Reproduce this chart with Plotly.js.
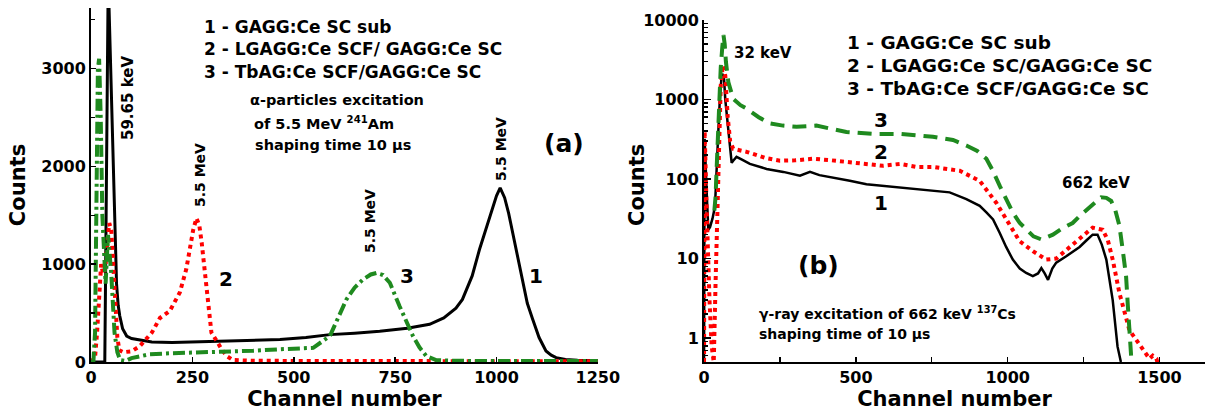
<!DOCTYPE html>
<html>
<head>
<meta charset="utf-8">
<script src="https://cdn.plot.ly/plotly-3.0.1.min.js"></script>
<style>html,body{margin:0;padding:0;background:#fff}#chart{width:1205px;height:414px}</style>
</head>
<body>
<div id="chart"></div>
<script>
// ---------- Panel (a): alpha-particle excitation, linear counts ----------
const a_ch1 = [0, 34, 36, 38, 40, 42, 44, 47, 51, 55, 59, 63, 67, 71, 78, 88, 100, 121, 150, 200, 250, 300, 350, 400, 466, 530, 589, 650, 712, 780, 835, 870, 900, 916, 940, 958, 975, 990, 1000, 1009, 1020, 1030, 1040, 1052, 1064, 1076, 1089, 1105, 1122, 1135, 1147, 1170, 1200, 1250];
const a_c1  = [0, 0, 900, 2000, 3000, 3700, 3700, 3200, 2600, 2000, 1400, 800, 580, 470, 340, 265, 240, 225, 205, 200, 205, 210, 215, 225, 230, 250, 280, 295, 315, 345, 385, 450, 550, 640, 880, 1150, 1380, 1590, 1700, 1780, 1680, 1520, 1320, 1080, 810, 600, 440, 250, 112, 70, 45, 25, 18, 15];

const a_ch2 = [0, 10, 15, 20, 25, 30, 35, 40, 45, 50, 55, 60, 65, 70, 80, 100, 120, 150, 170, 194, 219, 235, 244, 252, 260, 267, 273, 285, 297, 310, 322, 335, 350, 400, 500, 750, 1000, 1250];
const a_c2  = [0, 50, 300, 700, 1000, 900, 950, 1200, 1420, 1350, 1000, 600, 250, 120, 100, 110, 160, 300, 450, 520, 710, 950, 1180, 1350, 1470, 1400, 1220, 740, 300, 215, 130, 60, 20, 12, 10, 10, 8, 8];

const a_ch3 = [0, 6, 10, 14, 17, 20, 24, 28, 32, 36, 42, 50, 58, 65, 72, 85, 100, 145, 200, 300, 400, 466, 548, 589, 610, 630, 650, 671, 690, 704, 720, 737, 761, 780, 794, 810, 827, 851, 900, 1000, 1250];
const a_c3  = [0, 10, 300, 1500, 3000, 3100, 2500, 1500, 1000, 800, 1300, 900, 300, 100, 20, 10, 40, 80, 90, 100, 115, 130, 145, 265, 450, 640, 760, 845, 895, 910, 890, 810, 570, 400, 265, 150, 60, 20, 12, 10, 10];

const a_xticks = [0, 250, 500, 750, 1000, 1250];
const a_yticks = [0, 1000, 2000, 3000];

// ---------- Panel (b): gamma-ray excitation, log counts ----------
const b_ch1 = [0, 2, 8, 14, 20, 28, 36, 42, 47, 52, 58, 62, 66, 70, 75, 80, 86, 91, 96, 107, 125, 151, 206, 261, 316, 349, 380, 425, 480, 535, 590, 645, 700, 754, 809, 864, 908, 930, 952, 974, 995, 1017, 1040, 1061, 1083, 1100, 1111, 1122, 1133, 1147, 1160, 1193, 1237, 1260, 1280, 1296, 1310, 1325, 1346, 1362, 1373];
const b_c1  = [0.5, 320, 80, 23, 25, 32, 45, 120, 390, 1000, 2000, 2100, 1800, 1000, 630, 420, 260, 160, 170, 190, 175, 155, 134, 123, 110, 123, 112, 105, 95, 86, 82, 79, 75, 72, 68, 56, 46, 38, 31, 21, 14, 9.7, 7.5, 6.6, 6.0, 6.5, 7.6, 6.5, 5.4, 7.5, 8.9, 10.7, 14, 17, 20, 20, 15, 9.7, 3, 0.78, 0.5];

const b_ch2 = [0, 2, 5, 8, 12, 18, 25, 32, 38, 45, 50, 55, 62, 70, 78, 86, 96, 140, 200, 250, 300, 359, 420, 480, 589, 645, 700, 754, 842, 908, 935, 963, 996, 1039, 1083, 1127, 1160, 1204, 1247, 1280, 1313, 1330, 1346, 1368, 1401, 1434, 1467, 1478, 1490, 1500];
const b_c2  = [0.5, 400, 150, 50, 10, 3, 0.8, 0.5, 5, 50, 300, 1500, 2700, 2000, 600, 300, 240, 220, 185, 170, 172, 180, 172, 163, 147, 155, 142, 142, 127, 95, 70, 50, 31, 16.6, 12.4, 9.7, 10, 14, 19, 24.5, 23, 17, 9.7, 3.7, 1.26, 0.85, 0.55, 0.6, 0.55, 0.4];

const b_ch3 = [34, 38, 42, 46, 50, 55, 60, 64, 68, 72, 80, 96, 120, 140, 180, 217, 260, 305, 370, 420, 469, 557, 645, 754, 820, 864, 900, 930, 950, 974, 995, 1017, 1040, 1061, 1085, 1111, 1130, 1149, 1180, 1214, 1240, 1270, 1290, 1308, 1325, 1341, 1355, 1368, 1380, 1390, 1396, 1401, 1408];
const b_c3  = [40, 60, 150, 390, 1000, 2500, 4500, 6500, 5000, 3000, 1660, 1020, 850, 770, 600, 500, 470, 455, 470, 430, 390, 370, 370, 340, 310, 264, 225, 180, 130, 82, 55, 38, 28, 23, 19, 17.4, 18.5, 20, 24, 28, 35, 44, 52, 59, 58, 53, 40, 26, 12, 6, 2.5, 1.15, 0.5];

const b_xticks = [0, 500, 1000, 1500];
const b_yticks = [1, 10, 100, 1000, 10000];
const b_yminor = [0.6, 0.7, 0.8, 0.9, 2, 3, 4, 5, 6, 7, 8, 9, 20, 30, 40, 50, 60, 70, 80, 90,
                  200, 300, 400, 500, 600, 700, 800, 900, 2000, 3000, 4000, 5000, 6000, 7000, 8000, 9000];

// ---------- styling ----------
const FAM = 'DejaVu Sans';
const BLACK = '#000000', RED = '#ff0000', GREEN = '#1f8a1f';
const W = 1205, H = 414, ML = 91, MR = 0, MT = 8, MB = 52;
const PW = W - ML - MR, PH = H - MT - MB;
function P(x, y) { return {xref: 'paper', yref: 'paper', x: (x - ML) / PW, y: (H - MB - y) / PH}; }
function txt(x, y, text, size, opts) {
  return Object.assign(P(x, y), {text: text, showarrow: false, xanchor: 'center', yanchor: 'middle',
    font: {family: FAM, size: size, color: '#000', weight: 700}}, opts || {});
}

const traces = [
  {x: a_ch1, y: a_c1, xaxis: 'x', yaxis: 'y', mode: 'lines', line: {color: BLACK, width: 3}},
  {x: a_ch2, y: a_c2, xaxis: 'x', yaxis: 'y', mode: 'lines', line: {color: RED, width: 4, dash: 'dot'}},
  {x: a_ch3, y: a_c3, xaxis: 'x', yaxis: 'y', mode: 'lines', line: {color: GREEN, width: 4, dash: '12px,4px,3px,4px'}},
  {x: b_ch1, y: b_c1, xaxis: 'x2', yaxis: 'y2', mode: 'lines', line: {color: BLACK, width: 2.5}},
  {x: b_ch2, y: b_c2, xaxis: 'x2', yaxis: 'y2', mode: 'lines', line: {color: RED, width: 4, dash: 'dot'}},
  {x: b_ch3, y: b_c3, xaxis: 'x2', yaxis: 'y2', mode: 'lines', line: {color: GREEN, width: 4, dash: '14px,8px'}}
];

const tickfont = {family: FAM, size: 16, color: '#000', weight: 700};
const titlefont = {family: FAM, size: 21, color: '#000', weight: 700};
const axBase = {showline: true, linewidth: 2, linecolor: '#000', showgrid: false, zeroline: false,
  ticks: 'inside', ticklen: 5, tickwidth: 1.5, tickcolor: '#000', tickfont: tickfont};

const layout = {
  width: W, height: H, margin: {l: ML, r: MR, t: MT, b: MB}, showlegend: false,
  paper_bgcolor: '#fff', plot_bgcolor: '#fff',
  xaxis: Object.assign({}, axBase, {domain: [0, 0.455], range: [0, 1250], tickvals: a_xticks, anchor: 'y',
    title: {text: 'Channel number', font: titlefont, standoff: 5}}),
  yaxis: Object.assign({}, axBase, {domain: [0, 1], range: [0, 3620], tickvals: a_yticks, anchor: 'x',
    minor: {tickvals: [500, 1500, 2500, 3500], ticks: 'inside', ticklen: 4, tickcolor: '#000'},
    title: {text: 'Counts', font: titlefont, standoff: 10}}),
  xaxis2: Object.assign({}, axBase, {domain: [0.5503, 1], range: [0, 1650], tickvals: b_xticks, anchor: 'y2',
    minor: {tickvals: [250, 750, 1250], ticks: 'inside', ticklen: 5, tickcolor: '#000'},
    title: {text: 'Channel number', font: titlefont, standoff: 5}}),
  yaxis2: Object.assign({}, axBase, {type: 'log', domain: [0, 0.966], range: [-0.301, 4.0], tickvals: b_yticks,
    ticktext: b_yticks.map(String), anchor: 'x2', ticklen: 7,
    minor: {tickvals: b_yminor, ticks: 'inside', ticklen: 4, tickcolor: '#000', showgrid: false}}),
  annotations: [
    // panel (a)
    txt(202, 27, '1 - GAGG:Ce SC sub', 17, {xanchor: 'left'}),
    txt(202, 49, '2 - LGAGG:Ce SCF/ GAGG:Ce SC', 17, {xanchor: 'left'}),
    txt(202, 72, '3 - TbAG:Ce SCF/GAGG:Ce SC', 17, {xanchor: 'left'}),
    txt(248, 100, 'α-particles excitation', 14.5, {xanchor: 'left'}),
    txt(252, 123, 'of 5.5 MeV <sup>241</sup>Am', 14.5, {xanchor: 'left'}),
    txt(253, 145, 'shaping time 10 μs', 14.5, {xanchor: 'left'}),
    txt(128, 98, '59.65 keV', 15, {textangle: -90}),
    txt(200, 175, '5.5 MeV', 14, {textangle: -90}),
    txt(370, 221, '5.5 MeV', 14, {textangle: -90}),
    txt(501, 149, '5.5 MeV', 14, {textangle: -90}),
    txt(226, 279, '2', 20),
    txt(407, 276, '3', 20),
    txt(536, 276, '1', 20),
    txt(564, 143, '(a)', 25),
    // panel (b)
    txt(637, 185, 'Counts', 21, {textangle: -90}),
    txt(732, 53, '32 keV', 15, {xanchor: 'left'}),
    txt(845, 42, '1 - GAGG:Ce SC sub', 18.5, {xanchor: 'left'}),
    txt(845, 65, '2 - LGAGG:Ce SC/GAGG:Ce SC', 18.5, {xanchor: 'left'}),
    txt(845, 89, '3 - TbAG:Ce SCF/GAGG:Ce SC', 18.5, {xanchor: 'left'}),
    txt(881, 120, '3', 20),
    txt(881, 152, '2', 20),
    txt(881, 203, '1', 20),
    txt(1096, 183, '662 keV', 15),
    txt(818, 265, '(b)', 25),
    txt(757, 313, 'γ-ray excitation of 662 keV <sup>137</sup>Cs', 14, {xanchor: 'left'}),
    txt(757, 334, 'shaping time of 10 μs', 14, {xanchor: 'left'})
  ]
};

Plotly.newPlot('chart', traces, layout, {staticPlot: true, displayModeBar: false});
</script>
</body>
</html>
